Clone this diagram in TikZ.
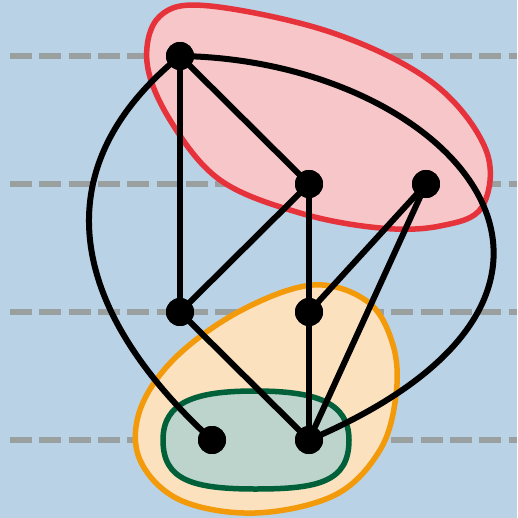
\documentclass[tikz,border=0pt]{standalone}
\usetikzlibrary{calc}
\definecolor{bg}{HTML}{B9D2E6}
\definecolor{dashgrey}{HTML}{9A9FA0}
\definecolor{redline}{HTML}{E5323B}
\definecolor{redfill}{HTML}{F7C6C9}
\definecolor{orline}{HTML}{F29A0A}
\definecolor{orfill}{HTML}{FBE1BE}
\definecolor{grline}{HTML}{00603A}
\definecolor{grfill}{HTML}{BCD4CB}
\tikzset{
  vtx/.style={circle,fill=black,inner sep=0pt,minimum size=28pt},
  edge/.style={line width=6pt,black},
  level/.style={line width=6pt,dashgrey,dash pattern=on 22pt off 7.33pt},
  region/.style={line width=5.5pt,line join=round}
}
\begin{document}
\begin{tikzpicture}[x=1pt,y=-1pt]
\fill[bg] (0,0) rectangle (517,518);
\useasboundingbox (0,0) rectangle (517,518);
% level lines
\foreach \yy in {56,184,312,440}{
  \draw[level] (10,\yy) -- (517,\yy);
}
% regions
\draw[region,redline,fill=redfill] plot[smooth cycle,tension=0.6] coordinates {
  (210,6) (333,33) (433,83) (486,150) (482,207) (440,226) (380,228)
  (300,213) (220,180) (170,120) (147,62) (160,16)};
\draw[region,orline,fill=orfill] plot[smooth cycle,tension=0.6] coordinates {
  (313,285) (368,302) (393,345) (396,395) (380,450) (335,495) (255,513)
  (180,500) (140,460) (140,410) (175,358) (240,311)};
\draw[region,grline,fill=grfill] (163,440)
  .. controls (163,402) and (195,391) .. (255,391)
  .. controls (315,391) and (349,402) .. (349,440)
  .. controls (349,482) and (318,489) .. (256,489)
  .. controls (192,489) and (163,480) .. cycle;
% nodes
\node[vtx] (A) at (180,56) {};
\node[vtx] (B) at (309,184) {};
\node[vtx] (C) at (426,184) {};
\node[vtx] (D) at (180,312) {};
\node[vtx] (E) at (309,312) {};
\node[vtx] (F) at (212,440) {};
\node[vtx] (G) at (309,440) {};
% edges
\draw[edge] (A.center) -- (D.center);
\draw[edge] (A.center) -- (B.center);
\draw[edge] (B.center) -- (D.center);
\draw[edge] (B.center) -- (E.center);
\draw[edge] (C.center) -- (E.center);
\draw[edge] (C.center) -- (G.center);
\draw[edge] (D.center) -- (G.center);
\draw[edge] (E.center) -- (G.center);
\draw[edge] (A.center) .. controls (40,170) and (70,310) .. (F.center);
\draw[edge] (A.center) .. controls (450,60) and (660,290) .. (G.center);
% redraw nodes on top
\foreach \n in {A,B,C,D,E,F,G}{ \fill[black] (\n) circle (14pt); }
\end{tikzpicture}
\end{document}
